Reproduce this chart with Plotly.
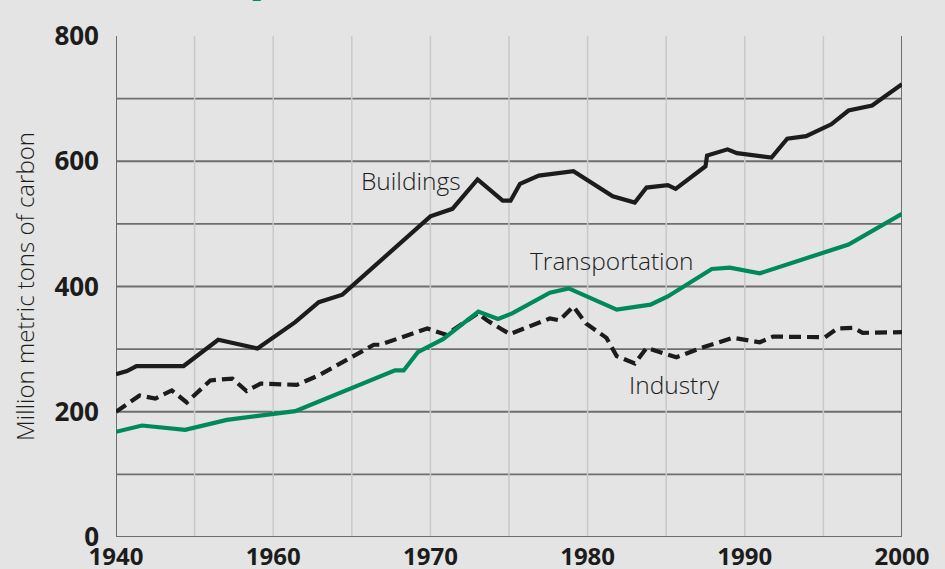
import plotly.graph_objects as go

# ---- data ----
buildings_years = [1950, 1950.7, 1951.3, 1954.3, 1956.5, 1959, 1961.4, 1962.9, 1964.4,
                   1970.0, 1971.4, 1973.0, 1974.6, 1975.1, 1975.7, 1976.9, 1979.1, 1981.6,
                   1983.0, 1983.75, 1985.1, 1985.6, 1987.5, 1987.6, 1988.9, 1989.5, 1991.7,
                   1992.7, 1993.9, 1995.5, 1996.6, 1998.1, 2000]
buildings_vals = [260, 265, 273, 273, 315, 301, 343, 375, 387,
                  512, 524, 571, 537, 537, 564, 577, 584, 544,
                  534, 558, 562, 556, 592, 609, 619, 613, 606,
                  636, 640, 659, 681, 689, 723]

transport_years = [1950, 1951.65, 1954.4, 1957.05, 1961.4, 1967.75, 1968.3, 1969.2, 1970.8,
                   1973.05, 1974.3, 1975.2, 1977.6, 1978.8, 1981.85, 1984.0, 1985.1, 1987.9,
                   1989.05, 1990.95, 1996.6, 2000]
transport_vals = [168, 178, 171, 187, 201, 266, 266, 295, 316,
                  360, 348, 357, 390, 397, 363, 371, 384, 428,
                  430, 421, 467, 516]

industry_years = [1950, 1951.5, 1952.5, 1953.55, 1954.5, 1956.0, 1957.4, 1958.3, 1959.2,
                  1961.5, 1962.9, 1966.4, 1966.8, 1969.8, 1971.0, 1973.0, 1973.6, 1975.05,
                  1977.6, 1978.2, 1979.1, 1979.9, 1981.2, 1981.85, 1983.0, 1983.75, 1985.65,
                  1987.35, 1989.25, 1990.95, 1991.8, 1995.1, 1995.9, 1996.9, 1997.5, 2000]
industry_vals = [200, 226, 221, 234, 215, 250, 253, 233, 245,
                 243, 258, 307, 307, 333, 323, 357, 346, 324,
                 349, 346, 368, 341, 318, 289, 277, 302, 287,
                 303, 318, 311, 320, 319, 333, 334, 326, 327]

x_tick_vals = [1950, 1960, 1970, 1980, 1990, 2000]
x_tick_text = ["1940", "1960", "1970", "1980", "1990", "2000"]
y_tick_vals = [0, 200, 400, 600, 800]
y_grid_vals = [100, 200, 300, 400, 500, 600, 700]
x_grid_vals = [1955, 1960, 1965, 1970, 1975, 1980, 1985, 1990, 1995]

labels = ["Buildings", "Transportation", "Industry"]
label_x = [1968.75, 1981.55, 1985.5]
label_y = [570, 442, 243]

BG = "#e3e4e3"
GREEN = "#008a5b"
DARK = "#1c1c1c"
GRID_DARK = "#6e6e6e"
GRID_LIGHT = "#c9c9c9"

fig = go.Figure()
fig.add_trace(go.Scatter(x=buildings_years, y=buildings_vals, mode="lines",
                         line=dict(color=DARK, width=4.2), hoverinfo="skip"))
fig.add_trace(go.Scatter(x=industry_years, y=industry_vals, mode="lines",
                         line=dict(color=DARK, width=4.2, dash="12px,6px"), hoverinfo="skip"))
fig.add_trace(go.Scatter(x=transport_years, y=transport_vals, mode="lines",
                         line=dict(color=GREEN, width=4.2), hoverinfo="skip"))

shapes = []
for v in y_grid_vals:
    shapes.append(dict(type="line", xref="x", yref="y", x0=1950, x1=2000, y0=v, y1=v,
                       line=dict(color=GRID_DARK, width=1.8), layer="below"))
for v in x_grid_vals:
    shapes.append(dict(type="line", xref="x", yref="y", x0=v, x1=v, y0=0, y1=800,
                       line=dict(color=GRID_LIGHT, width=1.5), layer="below"))
# axis frame: left, right, bottom
shapes.append(dict(type="line", xref="x", yref="y", x0=1950, x1=1950, y0=0, y1=800,
                   line=dict(color=GRID_DARK, width=2), layer="below"))
shapes.append(dict(type="line", xref="x", yref="y", x0=2000, x1=2000, y0=0, y1=800,
                   line=dict(color=GRID_DARK, width=2), layer="below"))
shapes.append(dict(type="line", xref="x", yref="y", x0=1950, x1=2000, y0=0, y1=0,
                   line=dict(color=GRID_DARK, width=2), layer="below"))

annotations = []
for t, lx, ly in zip(labels, label_x, label_y):
    annotations.append(dict(x=lx, y=ly, xref="x", yref="y", text=t, showarrow=False,
                            font=dict(family="Open Sans", size=24.5, color=DARK, weight=300)))
# clipped green title fragment at very top
annotations.append(dict(x=0.171, y=1.056, xref="paper", yref="paper", text="2",
                        showarrow=False, yanchor="bottom",
                        font=dict(family="Open Sans", size=16, color=GREEN, weight="bold")))

fig.update_layout(
    width=945, height=569,
    margin=dict(l=116, r=43, t=36, b=32, autoexpand=False),
    paper_bgcolor=BG, plot_bgcolor=BG,
    showlegend=False,
    shapes=shapes,
    annotations=annotations,
    xaxis=dict(range=[1950, 2000], tickvals=x_tick_vals, ticktext=x_tick_text,
               showgrid=False, zeroline=False, showline=False, ticks="", automargin=False,
               tickfont=dict(family="Open Sans", size=24, color=DARK, weight="bold"),
               ticklabelstandoff=3),
    yaxis=dict(range=[0, 800], tickvals=y_tick_vals, showgrid=False, zeroline=False,
               showline=False, ticks="", automargin=False,
               tickfont=dict(family="Open Sans", size=26, color=DARK, weight="bold"),
               ticklabelstandoff=16,
               title=dict(text="Million metric tons of carbon", standoff=12,
                          font=dict(family="Open Sans", size=24, color=DARK, weight=300))),
)

fig.write_html("out.html", config={"displayModeBar": False},
               post_script="document.body.style.margin='0';document.body.style.overflow='hidden';"
                           "document.body.style.background='" + BG + "';")
